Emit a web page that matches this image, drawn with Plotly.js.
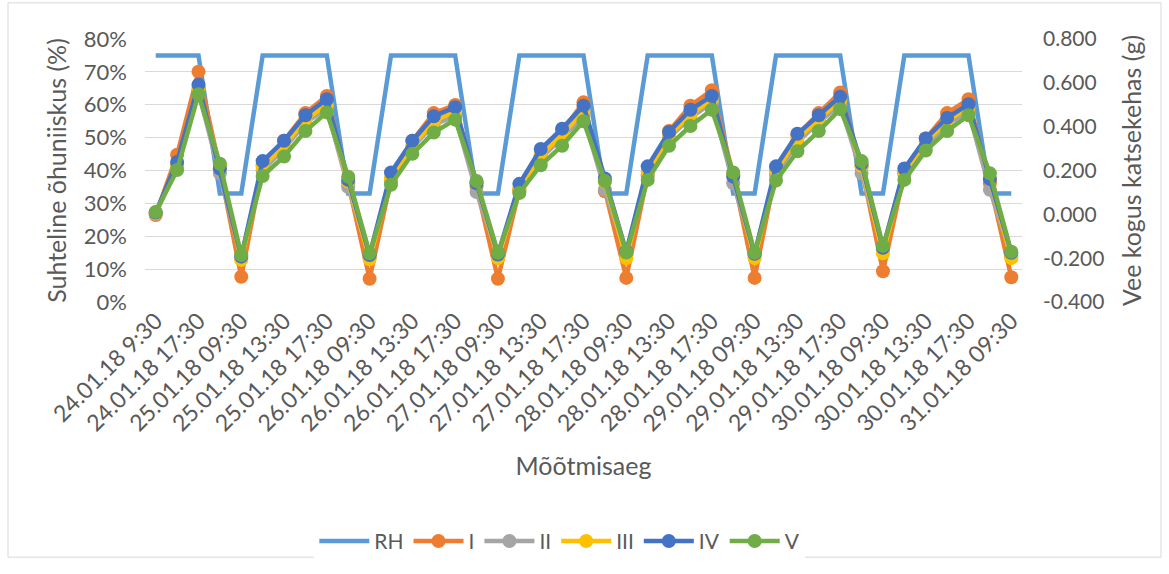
<!DOCTYPE html>
<html>
<head>
<meta charset="utf-8">
<script src="https://cdn.plot.ly/plotly-3.0.1.min.js"></script>
<style>
  html, body { margin: 0; padding: 0; background: #ffffff; }
  #chart { width: 1169px; height: 574px; }
</style>
</head>
<body>
<div id="chart"></div>
<script>
// Measurement times (category axis); every second one is labelled
const times = [
  "24.01.18 9:30", "24.01.18 13:30", "24.01.18 17:30", "24.01.18 19:30",
  "25.01.18 09:30", "25.01.18 11:30", "25.01.18 13:30", "25.01.18 15:30", "25.01.18 17:30", "25.01.18 19:30",
  "26.01.18 09:30", "26.01.18 11:30", "26.01.18 13:30", "26.01.18 15:30", "26.01.18 17:30", "26.01.18 19:30",
  "27.01.18 09:30", "27.01.18 11:30", "27.01.18 13:30", "27.01.18 15:30", "27.01.18 17:30", "27.01.18 19:30",
  "28.01.18 09:30", "28.01.18 11:30", "28.01.18 13:30", "28.01.18 15:30", "28.01.18 17:30", "28.01.18 19:30",
  "29.01.18 09:30", "29.01.18 11:30", "29.01.18 13:30", "29.01.18 15:30", "29.01.18 17:30", "29.01.18 19:30",
  "30.01.18 09:30", "30.01.18 11:30", "30.01.18 13:30", "30.01.18 15:30", "30.01.18 17:30", "30.01.18 19:30",
  "31.01.18 09:30"
];

// Relative humidity of the air (%)
const rh = [
  75, 75, 75, 33,
  33, 75, 75, 75, 75, 33,
  33, 75, 75, 75, 75, 33,
  33, 75, 75, 75, 75, 33,
  33, 75, 75, 75, 75, 33,
  33, 75, 75, 75, 75, 33,
  33, 75, 75, 75, 75, 33,
  33
];

// Amount of water in the specimens (g)
const specimenI = [
  -0.003, 0.272, 0.651, 0.209,
  -0.285, 0.224, 0.336, 0.462, 0.540, 0.142,
  -0.294, 0.157, 0.336, 0.462, 0.499, 0.127,
  -0.294, 0.112, 0.269, 0.380, 0.511, 0.105,
  -0.290, 0.180, 0.380, 0.496, 0.566, 0.179,
  -0.290, 0.200, 0.360, 0.462, 0.556, 0.216,
  -0.260, 0.190, 0.346, 0.462, 0.525, 0.142,
  -0.287
];
const specimenII = [
  0.003, 0.215, 0.560, 0.187,
  -0.200, 0.200, 0.300, 0.417, 0.484, 0.124,
  -0.193, 0.150, 0.306, 0.410, 0.447, 0.102,
  -0.190, 0.105, 0.255, 0.350, 0.447, 0.112,
  -0.188, 0.175, 0.350, 0.440, 0.510, 0.142,
  -0.188, 0.180, 0.330, 0.420, 0.500, 0.187,
  -0.165, 0.180, 0.310, 0.410, 0.470, 0.112,
  -0.190
];
const specimenIII = [
  0.005, 0.225, 0.575, 0.220,
  -0.208, 0.216, 0.313, 0.432, 0.499, 0.150,
  -0.205, 0.164, 0.313, 0.425, 0.470, 0.142,
  -0.200, 0.115, 0.269, 0.365, 0.470, 0.150,
  -0.200, 0.194, 0.360, 0.455, 0.525, 0.180,
  -0.200, 0.200, 0.345, 0.435, 0.520, 0.220,
  -0.178, 0.195, 0.330, 0.425, 0.490, 0.160,
  -0.200
];
const specimenIV = [
  0.008, 0.239, 0.592, 0.209,
  -0.193, 0.243, 0.336, 0.452, 0.525, 0.157,
  -0.186, 0.191, 0.336, 0.447, 0.489, 0.142,
  -0.183, 0.139, 0.298, 0.391, 0.496, 0.164,
  -0.171, 0.219, 0.376, 0.477, 0.540, 0.172,
  -0.180, 0.219, 0.368, 0.452, 0.537, 0.231,
  -0.153, 0.209, 0.346, 0.440, 0.502, 0.161,
  -0.175
];
const specimenV = [
  0.011, 0.202, 0.548, 0.231,
  -0.186, 0.175, 0.264, 0.380, 0.465, 0.172,
  -0.178, 0.135, 0.276, 0.373, 0.432, 0.152,
  -0.175, 0.097, 0.224, 0.313, 0.425, 0.152,
  -0.174, 0.157, 0.313, 0.403, 0.477, 0.191,
  -0.175, 0.154, 0.288, 0.380, 0.480, 0.243,
  -0.144, 0.157, 0.291, 0.380, 0.452, 0.187,
  -0.171
];

// Right-axis ticks (written with a plain hyphen for negatives)
const massTicks = [-0.4, -0.2, 0, 0.2, 0.4, 0.6, 0.8];
const massTickText = ["-0.400", "-0.200", "0.000", "0.200", "0.400", "0.600", "0.800"];

const labelledTimes = times.filter((t, i) => i % 2 === 0);

const font = "Lato, 'Open Sans', sans-serif";
const textColor = "#595959";

function specimenTrace(name, values, color) {
  return {
    x: times, y: values, name: name, yaxis: "y2",
    type: "scatter", mode: "lines+markers",
    line: { color: color, width: 4.5 },
    marker: { color: color, size: 14 }
  };
}

const traces = [
  { x: times, y: rh, name: "RH", type: "scatter", mode: "lines",
    line: { color: "#5B9BD5", width: 4.5 } },
  specimenTrace("I", specimenI, "#ED7D31"),
  specimenTrace("II", specimenII, "#A5A5A5"),
  specimenTrace("III", specimenIII, "#FFC000"),
  specimenTrace("IV", specimenIV, "#4472C4"),
  specimenTrace("V", specimenV, "#70AD47")
];

const layout = {
  width: 1169, height: 574,
  margin: { l: 145, r: 147, t: 39, b: 266 },
  paper_bgcolor: "#ffffff", plot_bgcolor: "#ffffff",
  font: { family: font, color: textColor, size: 20 },
  showlegend: true,
  legend: {
    orientation: "h", x: 0.473, xanchor: "center", y: -0.91, yanchor: "middle",
    font: { size: 21, color: textColor }, itemwidth: 50, traceorder: "normal"
  },
  xaxis: {
    type: "category", range: [-0.5, times.length - 0.5],
    tickmode: "array", tickvals: labelledTimes, ticktext: labelledTimes,
    tickangle: -45, tickfont: { size: 23, color: textColor },
    showgrid: false, zeroline: false, showline: false, ticks: "",
    title: { text: "Mõõtmisaeg", font: { size: 25, color: textColor }, standoff: 22 }
  },
  yaxis: {
    range: [0, 80], tickmode: "linear", tick0: 0, dtick: 10, ticksuffix: "%",
    tickfont: { size: 22, color: textColor }, ticks: "", ticklabelstandoff: 17,
    showgrid: true, gridcolor: "#D9D9D9", gridwidth: 1.3, zeroline: false, showline: false,
    title: { text: "Suhteline õhuniiskus (%)", font: { size: 25, color: textColor }, standoff: 10 }
  },
  yaxis2: {
    overlaying: "y", side: "right", range: [-0.4, 0.8],
    tickmode: "array", tickvals: massTicks, ticktext: massTickText,
    tickfont: { size: 21, color: textColor }, ticks: "", ticklabelstandoff: 20,
    showgrid: false, zeroline: false, showline: false,
    title: { text: "Vee kogus katsekehas (g)", font: { size: 25, color: textColor }, standoff: 20 }
  },
  shapes: [{
    type: "rect", xref: "paper", yref: "paper",
    x0: (8 - 145) / 877, x1: (1161 - 145) / 877,
    y0: (308 - 569) / 269, y1: (308 - 2) / 269,
    line: { color: "#D9D9D9", width: 1 }, fillcolor: "rgba(0,0,0,0)", layer: "below"
  }]
};

Plotly.newPlot("chart", traces, layout, { displayModeBar: false, responsive: false });
</script>
</body>
</html>
